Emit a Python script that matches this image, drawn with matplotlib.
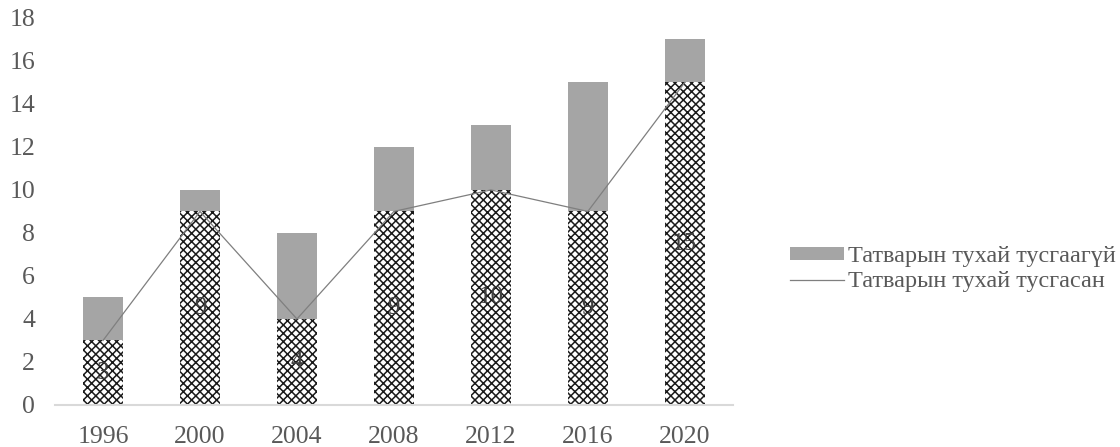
import matplotlib.pyplot as plt
from matplotlib.lines import Line2D
from matplotlib.patches import Patch

plt.rcParams['font.family'] = ['Liberation Serif', 'DejaVu Serif']
plt.rcParams['hatch.linewidth'] = 1.1

years = ['1996', '2000', '2004', '2008', '2012', '2016', '2020']
included = [3, 9, 4, 9, 10, 9, 15]        # Татварын тухай тусгасан
not_included = [2, 1, 4, 3, 3, 6, 2]      # Татварын тухай тусгаагүй

fig = plt.figure(figsize=(11.2, 4.47), dpi=100)
ax = fig.add_axes([0.0487, 0.094, 0.606, 0.866])

x = range(len(years))
ax.bar(x, included, width=0.41, color='white', edgecolor='#1a1a1a', hatch='xxxx', linewidth=0)
ax.bar(x, not_included, width=0.41, bottom=included, color='#a5a5a5', linewidth=0)
ax.plot(x, included, color='#7f7f7f', linewidth=0.9)

for i, v in enumerate(included):
    ax.text(i, v / 2, str(v), ha='center', va='center', fontsize=18, color='#404040')

ax.set_xlim(-0.5, 6.5)
ax.set_ylim(0, 18)
ax.set_yticks(range(0, 19, 2))
ax.set_xticks(list(x))
ax.set_xticklabels(years)
ax.tick_params(length=0, labelsize=18.5, colors='#595959')
ax.tick_params(axis='x', pad=15)
ax.tick_params(axis='y', pad=14)
for s in ['top', 'right', 'left']:
    ax.spines[s].set_visible(False)
ax.spines['bottom'].set_color('#d9d9d9')
ax.spines['bottom'].set_linewidth(1.5)

handles = [Patch(facecolor='#a5a5a5', label='Татварын тухай тусгаагүй'),
           Line2D([0], [0], color='#7f7f7f', linewidth=0.9, label='Татварын тухай тусгасан')]
fig.legend(handles=handles, loc='center left', bbox_to_anchor=(0.705, 0.398),
           frameon=False, fontsize=17.5, labelcolor='#595959', handlelength=2.25,
           handleheight=0.4, handletextpad=0.15, labelspacing=0.15,
           borderpad=0, borderaxespad=0)

fig.savefig('out.png', dpi=100)
